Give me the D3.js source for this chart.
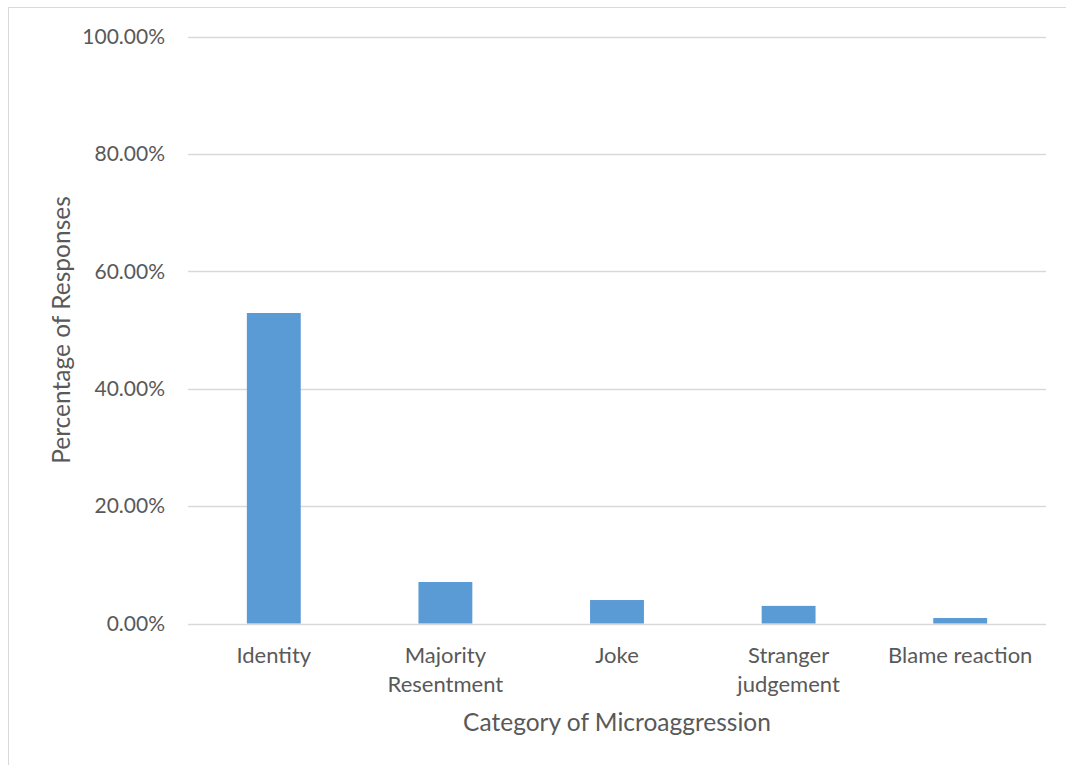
<!DOCTYPE html>
<html>
<head>
<meta charset="utf-8">
<script src="https://cdn.jsdelivr.net/npm/d3@7"></script>
<style>
  body { margin: 0; background: #fff; }
  text { font-family: Lato, "Open Sans", sans-serif; fill: #595959; }
</style>
</head>
<body>
<script>
// Data
const categories = ["Identity", "Majority Resentment", "Joke", "Stranger judgement", "Blame reaction"];
const labelLines = [["Identity"], ["Majority", "Resentment"], ["Joke"], ["Stranger", "judgement"], ["Blame reaction"]];
const percents = [0.529, 0.0707, 0.040, 0.030, 0.0094];
const yTicks = [0, 0.2, 0.4, 0.6, 0.8, 1.0];

let width = 1066,
    height = 765;

let margin = { top: 36.5, bottom: 141.5, left: 188, right: 20 };

let svg = d3.select('body')
    .append('svg')
    .attr('width', width)
    .attr('height', height);

// outer chart border
svg.append('rect')
    .attr('x', 8.5).attr('y', 7.5)
    .attr('width', width + 10).attr('height', height + 10)
    .attr('fill', 'none')
    .attr('stroke', '#d9d9d9');

let xScale = d3.scaleBand()
    .domain(categories)
    .range([margin.left, width - margin.right])
    .paddingInner(0.686)
    .paddingOuter(0.343);

let yScale = d3.scaleLinear()
    .domain([0, 1])
    .range([height - margin.bottom, margin.top]);

// gridlines
svg.append('g')
    .selectAll('line')
    .data(yTicks)
    .enter().append('line')
    .attr('x1', margin.left)
    .attr('x2', width - margin.right)
    .attr('y1', d => Math.round(yScale(d)) + 0.5)
    .attr('y2', d => Math.round(yScale(d)) + 0.5)
    .attr('stroke', '#d9d9d9')
    .attr('stroke-width', d => d === 0 ? 1.6 : 1.3);

// y tick labels
svg.append('g')
    .selectAll('text')
    .data(yTicks)
    .enter().append('text')
    .attr('x', 165)
    .attr('y', d => yScale(d))
    .attr('dy', '0.35em')
    .attr('text-anchor', 'end')
    .style('font-size', '21px')
    .text(d => d3.format('.2%')(d));

// bars
svg.selectAll('rect.bar')
    .data(percents)
    .enter().append('rect')
    .attr('class', 'bar')
    .attr('x', (d, i) => xScale(categories[i]))
    .attr('y', d => yScale(d))
    .attr('width', xScale.bandwidth())
    .attr('height', d => yScale(0) - yScale(d))
    .attr('fill', '#5b9bd5');

// category labels
let catLabels = svg.append('g')
    .selectAll('text')
    .data(categories)
    .enter().append('text')
    .attr('text-anchor', 'middle')
    .attr('x', d => xScale(d) + xScale.bandwidth() / 2)
    .attr('y', 662.5)
    .style('font-size', '22px');

catLabels.selectAll('tspan')
    .data((d, i) => labelLines[i])
    .enter().append('tspan')
    .attr('x', function() { return d3.select(this.parentNode).attr('x'); })
    .attr('dy', (d, i) => i === 0 ? 0 : 29)
    .text(d => d);

// x axis title
svg.append('text')
    .attr('x', (margin.left + width - margin.right) / 2)
    .attr('y', 731)
    .attr('text-anchor', 'middle')
    .style('font-size', '24.5px')
    .text('Category of Microaggression');

// y axis title
svg.append('text')
    .attr('transform', 'rotate(-90)')
    .attr('x', -330)
    .attr('y', 70)
    .attr('text-anchor', 'middle')
    .style('font-size', '24.5px')
    .text('Percentage of Responses');
</script>
</body>
</html>
